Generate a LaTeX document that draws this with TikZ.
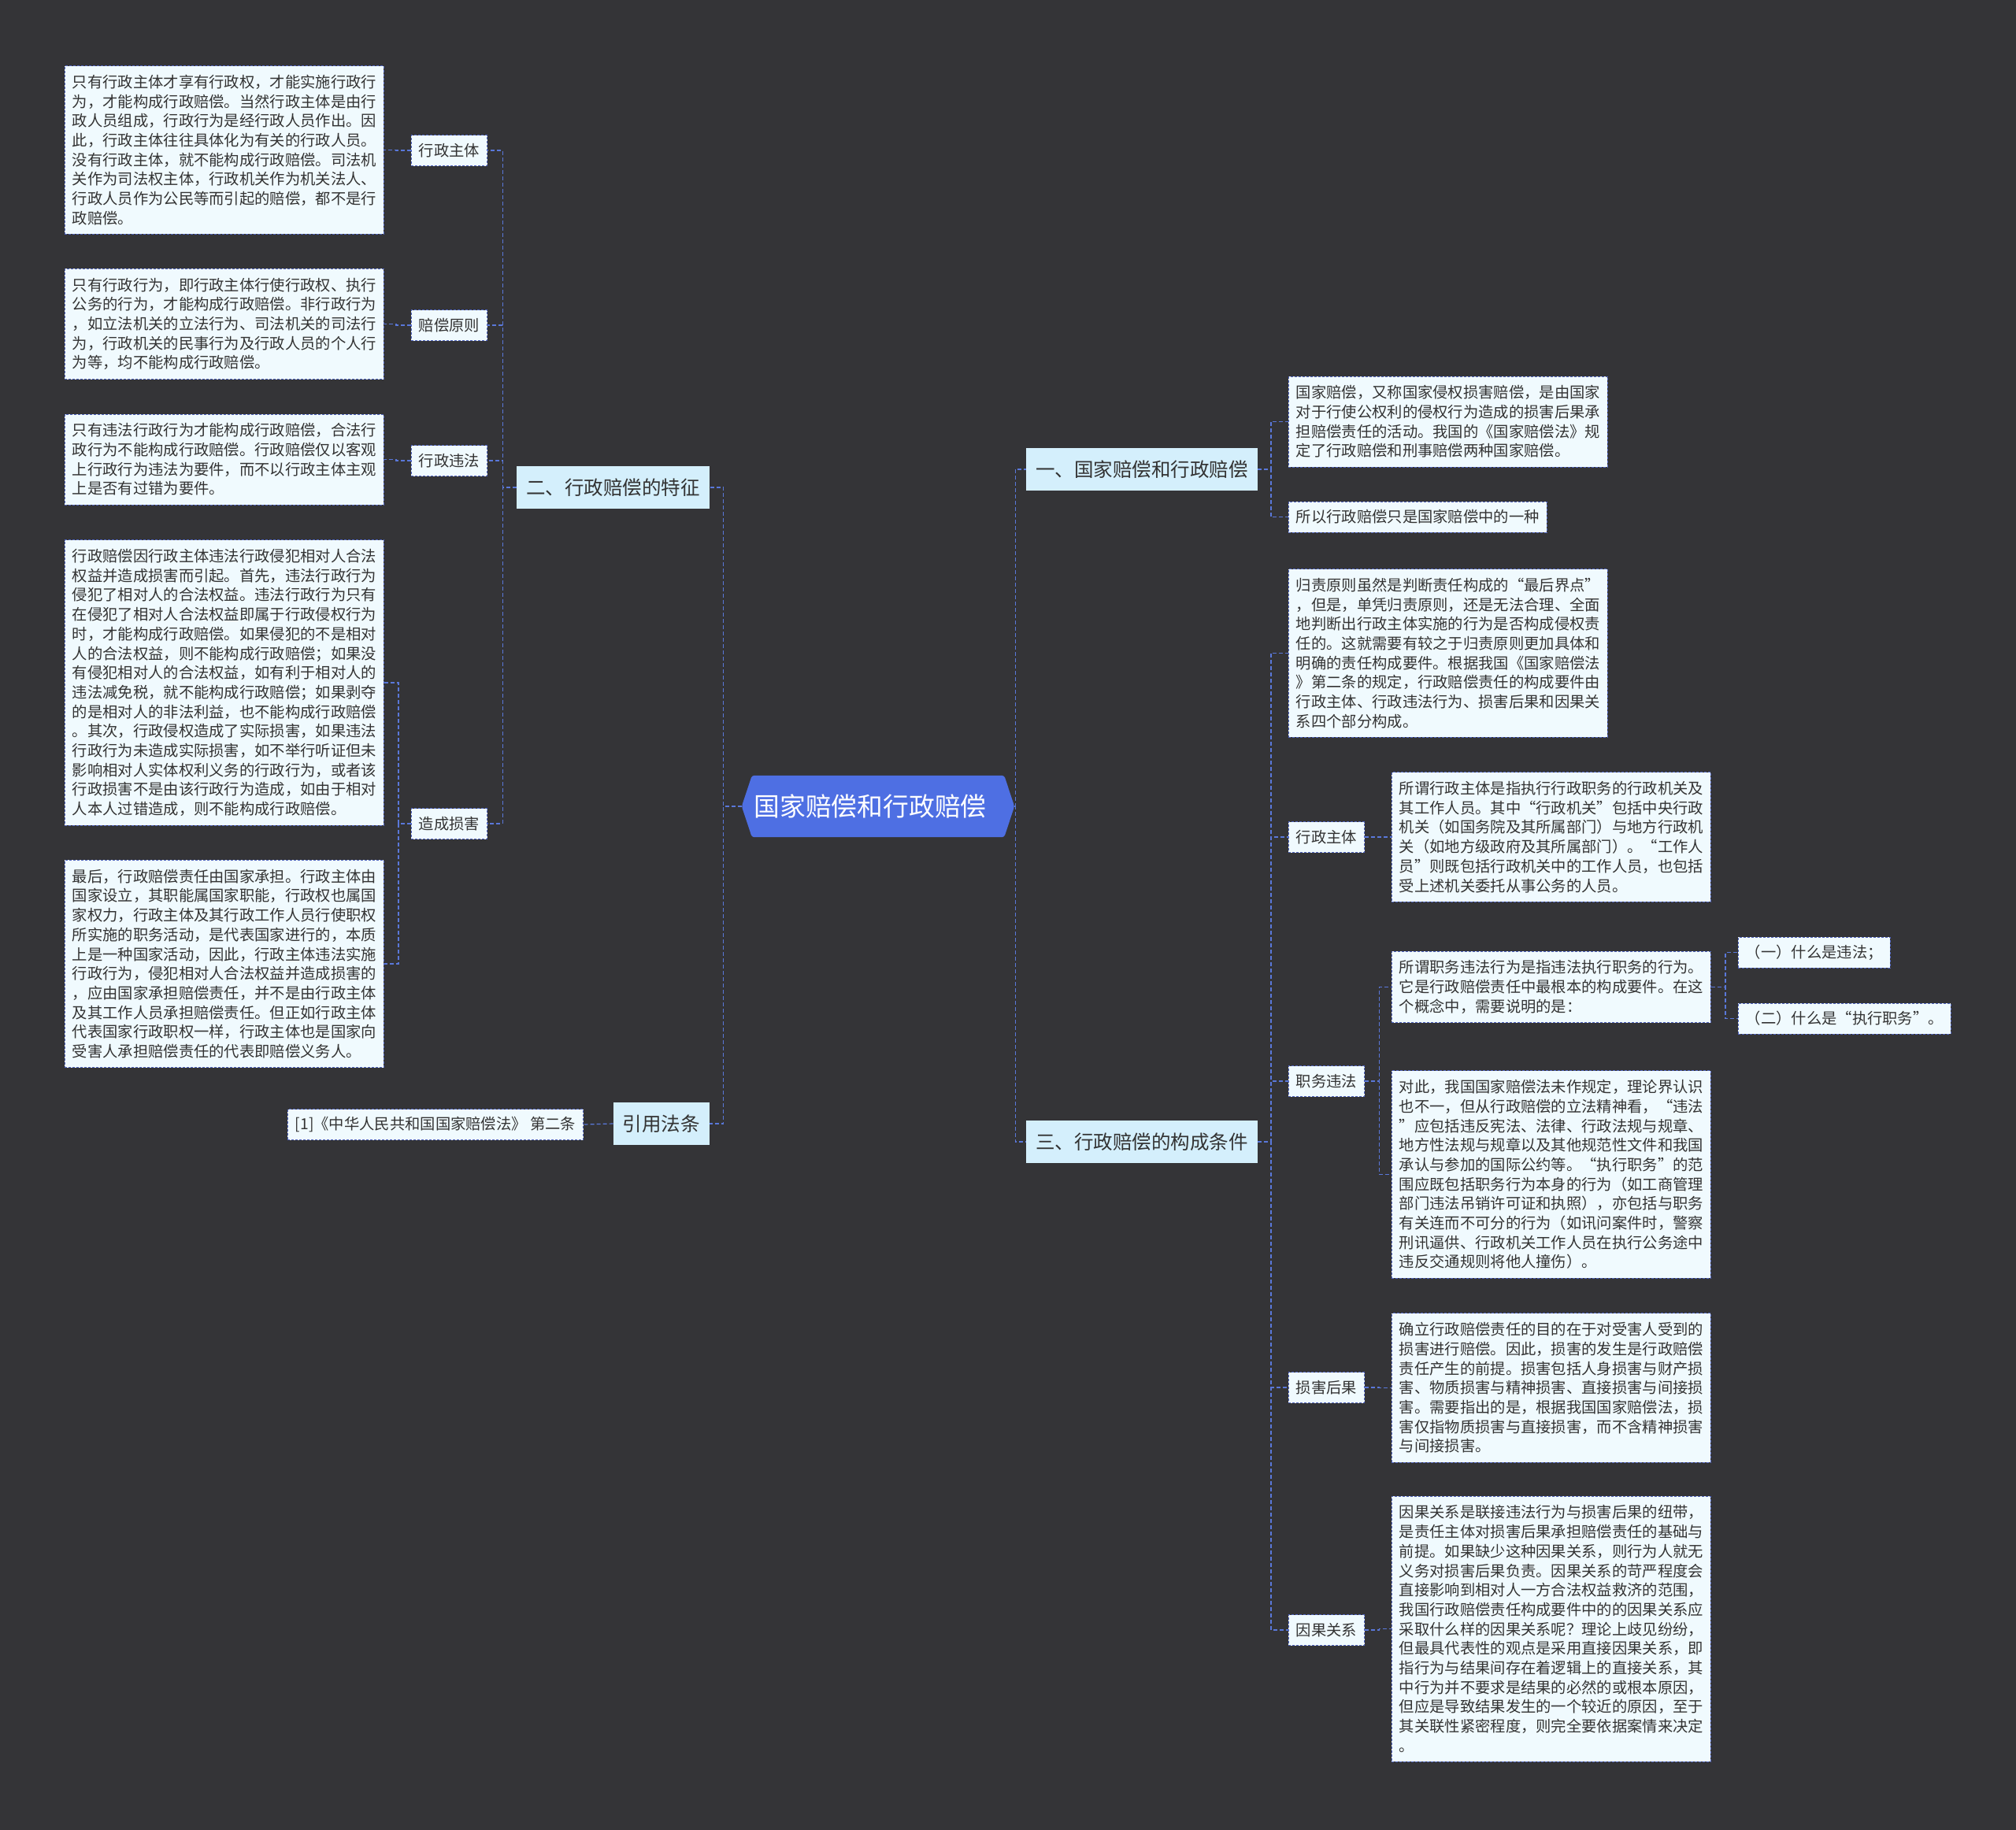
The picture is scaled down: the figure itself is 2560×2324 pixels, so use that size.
\documentclass[tikz,border=0pt]{standalone}
\usepackage{fontspec}
\newfontfamily\cjk{Noto Sans CJK SC}
\usetikzlibrary{backgrounds}
\definecolor{bgc}{RGB}{52,52,55}
\definecolor{leaffill}{RGB}{240,250,254}
\definecolor{lvfill}{RGB}{212,239,252}
\definecolor{bdr}{RGB}{80,100,190}
\definecolor{conc}{RGB}{90,120,218}
\definecolor{cblue}{RGB}{78,111,227}
\definecolor{txt}{RGB}{51,51,51}
\begin{document}
\begin{tikzpicture}[x=1pt,y=-1pt,
  leaf/.style={draw=bdr, dash pattern=on 3pt off 2pt, line width=0.9pt, fill=leaffill, text=txt,
    font=\cjk\fontsize{19.3}{24.7}\selectfont, align=left, inner xsep=9.5pt, inner ysep=11.5pt},
  lab/.style={draw=bdr, dash pattern=on 3pt off 2pt, line width=0.9pt, fill=leaffill, text=txt,
    font=\cjk\fontsize{19.3}{24.7}\selectfont, minimum height=39pt, inner xsep=9.5pt, inner ysep=0pt},
  lvone/.style={fill=lvfill, text=txt, font=\cjk\fontsize{24.5}{28}\selectfont,
    minimum height=54pt, inner xsep=12pt, inner ysep=0pt},
  conn/.style={draw=conc, line width=1.2pt, dash pattern=on 5pt off 3pt}
]
\useasboundingbox (0,0) rectangle (2560,2324);
\begin{scope}[on background layer]
\fill[bgc] (0,0) rectangle (2560,2324);
\end{scope}

% central node
\node[minimum width=320pt, minimum height=78pt, inner sep=0pt, text=white,
  font=\cjk\fontsize{32.8}{36}\selectfont] (c) at (1115,1024) {\kern-20pt 国家赔偿和行政赔偿};
\coordinate (cw) at ([xshift=-13pt]c.west);
\coordinate (ce) at ([xshift=13pt]c.east);
\begin{scope}[on background layer]
\fill[cblue, rounded corners=3pt] (cw) -- (c.north west) -- (c.north east) -- (ce) -- (c.south east) -- (c.south west) -- cycle;
\end{scope}

% level one
\node[lvone, anchor=east] (L1) at (901,619) {二、行政赔偿的特征};
\node[lvone, anchor=east] (L2) at (901,1427) {引用法条};
\node[lvone, anchor=west] (R1h) at (1303,596) {一、国家赔偿和行政赔偿};
\node[lvone, anchor=west] (R3h) at (1303,1450) {三、行政赔偿的构成条件};

% left labels
\node[lab, anchor=east] (lz1) at (619,191) {行政主体};
\node[lab, anchor=east] (lz2) at (619,413) {赔偿原则};
\node[lab, anchor=east] (lz3) at (619,585) {行政违法};
\node[lab, anchor=east] (lz4) at (619,1046) {造成损害};

% left leaves
\node[leaf, anchor=west] (B1) at (82,190.5) {只有行政主体才享有行政权，才能实施行政行\\
为，才能构成行政赔偿。当然行政主体是由行\\
政人员组成，行政行为是经行政人员作出。因\\
此，行政主体往往具体化为有关的行政人员。\\
没有行政主体，就不能构成行政赔偿。司法机\\
关作为司法权主体，行政机关作为机关法人、\\
行政人员作为公民等而引起的赔偿，都不是行\\
政赔偿。};
\node[leaf, anchor=west] (B2) at (82,411.5) {只有行政行为，即行政主体行使行政权、执行\\
公务的行为，才能构成行政赔偿。非行政行为\\
，如立法机关的立法行为、司法机关的司法行\\
为，行政机关的民事行为及行政人员的个人行\\
为等，均不能构成行政赔偿。};
\node[leaf, anchor=west] (B3) at (82,583.5) {只有违法行政行为才能构成行政赔偿，合法行\\
政行为不能构成行政赔偿。行政赔偿仅以客观\\
上行政行为违法为要件，而不以行政主体主观\\
上是否有过错为要件。};
\node[leaf, anchor=west] (B4) at (82,867) {行政赔偿因行政主体违法行政侵犯相对人合法\\
权益并造成损害而引起。首先，违法行政行为\\
侵犯了相对人的合法权益。违法行政行为只有\\
在侵犯了相对人合法权益即属于行政侵权行为\\
时，才能构成行政赔偿。如果侵犯的不是相对\\
人的合法权益，则不能构成行政赔偿；如果没\\
有侵犯相对人的合法权益，如有利于相对人的\\
违法减免税，就不能构成行政赔偿；如果剥夺\\
的是相对人的非法利益，也不能构成行政赔偿\\
。其次，行政侵权造成了实际损害，如果违法\\
行政行为未造成实际损害，如不举行听证但未\\
影响相对人实体权利义务的行政行为，或者该\\
行政损害不是由该行政行为造成，如由于相对\\
人本人过错造成，则不能构成行政赔偿。};
\node[leaf, anchor=west] (B5) at (82,1224) {最后，行政赔偿责任由国家承担。行政主体由\\
国家设立，其职能属国家职能，行政权也属国\\
家权力，行政主体及其行政工作人员行使职权\\
所实施的职务活动，是代表国家进行的，本质\\
上是一种国家活动，因此，行政主体违法实施\\
行政行为，侵犯相对人合法权益并造成损害的\\
，应由国家承担赔偿责任，并不是由行政主体\\
及其工作人员承担赔偿责任。但正如行政主体\\
代表国家行政职权一样，行政主体也是国家向\\
受害人承担赔偿责任的代表即赔偿义务人。};

\node[lab, anchor=east] (cit) at (741,1428) {[1]《中华人民共和国国家赔偿法》 第二条};

% right side
\node[leaf, anchor=west] (R1) at (1636,535.5) {国家赔偿，又称国家侵权损害赔偿，是由国家\\
对于行使公权利的侵权行为造成的损害后果承\\
担赔偿责任的活动。我国的《国家赔偿法》规\\
定了行政赔偿和刑事赔偿两种国家赔偿。};
\node[lab, anchor=west] (R2) at (1636,656.5) {所以行政赔偿只是国家赔偿中的一种};
\node[leaf, anchor=west] (R3) at (1636,829.5) {归责原则虽然是判断责任构成的“最后界点”\\
，但是，单凭归责原则，还是无法合理、全面\\
地判断出行政主体实施的行为是否构成侵权责\\
任的。这就需要有较之于归责原则更加具体和\\
明确的责任构成要件。根据我国《国家赔偿法\\
》第二条的规定，行政赔偿责任的构成要件由\\
行政主体、行政违法行为、损害后果和因果关\\
系四个部分构成。};

\node[lab, anchor=west] (rz1) at (1636,1063) {行政主体};
\node[lab, anchor=west] (rz2) at (1636,1373) {职务违法};
\node[lab, anchor=west] (rz3) at (1636,1762) {损害后果};
\node[lab, anchor=west] (rz4) at (1636,2070) {因果关系};

\node[leaf, anchor=west] (RS) at (1767,1063) {所谓行政主体是指执行行政职务的行政机关及\\
其工作人员。其中“行政机关”包括中央行政\\
机关（如国务院及其所属部门）与地方行政机\\
关（如地方级政府及其所属部门）。“工作人\\
员”则既包括行政机关中的工作人员，也包括\\
受上述机关委托从事公务的人员。};
\node[leaf, anchor=west] (RJ1) at (1767,1253.5) {所谓职务违法行为是指违法执行职务的行为。\\
它是行政赔偿责任中最根本的构成要件。在这\\
个概念中，需要说明的是：};
\node[leaf, anchor=west] (RJ2) at (1767,1491.5) {对此，我国国家赔偿法未作规定，理论界认识\\
也不一，但从行政赔偿的立法精神看，“违法\\
”应包括违反宪法、法律、行政法规与规章、\\
地方性法规与规章以及其他规范性文件和我国\\
承认与参加的国际公约等。“执行职务”的范\\
围应既包括职务行为本身的行为（如工商管理\\
部门违法吊销许可证和执照），亦包括与职务\\
有关连而不可分的行为（如讯问案件时，警察\\
刑讯逼供、行政机关工作人员在执行公务途中\\
违反交通规则将他人撞伤）。};
\node[lab, anchor=west] (J1) at (2207,1209.5) {（一）什么是违法；};
\node[lab, anchor=west] (J2) at (2207,1293.5) {（二）什么是“执行职务”。};
\node[leaf, anchor=west] (RSH) at (1767,1762.5) {确立行政赔偿责任的目的在于对受害人受到的\\
损害进行赔偿。因此，损害的发生是行政赔偿\\
责任产生的前提。损害包括人身损害与财产损\\
害、物质损害与精神损害、直接损害与间接损\\
害。需要指出的是，根据我国国家赔偿法，损\\
害仅指物质损害与直接损害，而不含精神损害\\
与间接损害。};
\node[leaf, anchor=west] (RY) at (1767,2068.5) {因果关系是联接违法行为与损害后果的纽带，\\
是责任主体对损害后果承担赔偿责任的基础与\\
前提。如果缺少这种因果关系，则行为人就无\\
义务对损害后果负责。因果关系的苛严程度会\\
直接影响到相对人一方合法权益救济的范围，\\
我国行政赔偿责任构成要件中的的因果关系应\\
采取什么样的因果关系呢？理论上歧见纷纷，\\
但最具代表性的观点是采用直接因果关系，即\\
指行为与结果间存在着逻辑上的直接关系，其\\
中行为并不要求是结果的必然的或根本原因，\\
但应是导致结果发生的一个较近的原因，至于\\
其关联性紧密程度，则完全要依据案情来决定\\
。};

% connectors
\draw[conn] (cw) -- ++(-23,0) |- (L1.east);
\draw[conn] (cw) -- ++(-23,0) |- (L2.east);
\draw[conn] (ce) -- ++(1,0) |- (R1h.west);
\draw[conn] (ce) -- ++(1,0) |- (R3h.west);

\foreach \n in {lz1,lz2,lz3,lz4} \draw[conn] (L1.west) -- ++(-18,0) |- (\n.east);
\draw[conn] (lz1.west) -- ++(-19,0) |- (B1.east);
\draw[conn] (lz2.west) -- ++(-19,0) |- (B2.east);
\draw[conn] (lz3.west) -- ++(-19,0) |- (B3.east);
\draw[conn] (lz4.west) -- ++(-16,0) |- (B4.east);
\draw[conn] (lz4.west) -- ++(-16,0) |- (B5.east);
\draw[conn] (L2.west) -- (cit.east);

\draw[conn] (R1h.east) -- ++(17,0) |- (R1.west);
\draw[conn] (R1h.east) -- ++(17,0) |- (R2.west);
\foreach \n in {R3,rz1,rz2,rz3,rz4} \draw[conn] (R3h.east) -- ++(17,0) |- (\n.west);
\draw[conn] (rz1.east) -- ++(18,0) |- (RS.west);
\draw[conn] (rz2.east) -- ++(18,0) |- (RJ1.west);
\draw[conn] (rz2.east) -- ++(18,0) |- (RJ2.west);
\draw[conn] (rz3.east) -- ++(18,0) |- (RSH.west);
\draw[conn] (rz4.east) -- ++(18,0) |- (RY.west);
\draw[conn] (RJ1.east) -- ++(18,0) |- (J1.west);
\draw[conn] (RJ1.east) -- ++(18,0) |- (J2.west);
\end{tikzpicture}
\end{document}
